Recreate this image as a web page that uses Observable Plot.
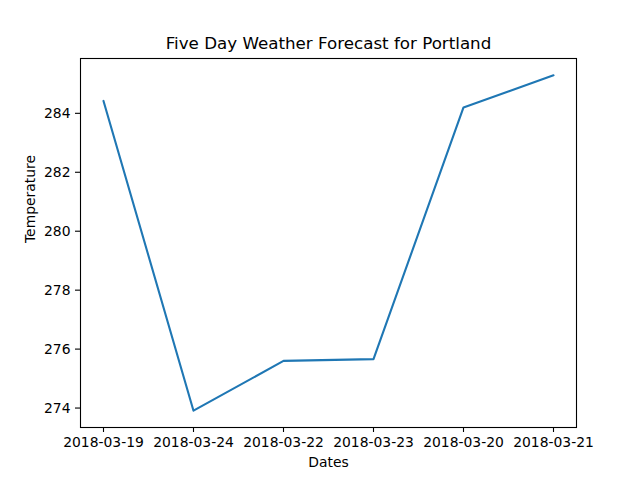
<!DOCTYPE html>
<html>
<head>
<meta charset="utf-8">
<script src="https://cdn.jsdelivr.net/npm/d3@7"></script>
<script src="https://cdn.jsdelivr.net/npm/@observablehq/plot@0.6"></script>
<style>
html, body { margin: 0; padding: 0; background: white; }
</style>
</head>
<body>
<div id="chart"></div>
<script>
const dates = ["2018-03-19", "2018-03-24", "2018-03-22", "2018-03-23", "2018-03-20", "2018-03-21"];
const temps = [284.42, 273.91, 275.60, 275.66, 284.20, 285.29];
const yTicks = [274, 276, 278, 280, 282, 284];
const title = "Five Day Weather Forecast for Portland";
const xLabel = "Dates";
const yLabel = "Temperature";

const data = dates.map((d, i) => ({date: d, temp: temps[i]}));

const chart = Plot.plot({
  width: 640,
  height: 480,
  marginLeft: 80,
  marginRight: 64,
  marginTop: 58,
  marginBottom: 53,
  style: {fontFamily: "DejaVu Sans", fontSize: "13.9px", color: "black", background: "white"},
  x: {type: "point", domain: dates, padding: 0.25, align: 0.5},
  y: {domain: [273.34, 285.86]},
  marks: [
    Plot.axisX({tickSize: 5, tickPadding: 5, label: null, fontSize: 13.9, strokeWidth: 1.1}),
    Plot.axisY({ticks: yTicks, tickSize: 5, tickPadding: 5, label: null, fontSize: 13.9, strokeWidth: 1.1}),
    Plot.lineY(data, {x: "date", y: "temp", stroke: "#1f77b4", strokeWidth: 2.1}),
    Plot.frame({stroke: "black", strokeWidth: 1.1}),
    Plot.text([title], {frameAnchor: "top", lineAnchor: "bottom", dy: -10, fontSize: 16.7, fill: "black"}),
    Plot.text([xLabel], {frameAnchor: "bottom", lineAnchor: "middle", dy: 35, fontSize: 13.9, fill: "black"}),
    Plot.text([yLabel], {frameAnchor: "left", lineAnchor: "middle", dx: -50, rotate: -90, fontSize: 13.9, fill: "black"})
  ]
});
document.getElementById("chart").appendChild(chart);
</script>
</body>
</html>
